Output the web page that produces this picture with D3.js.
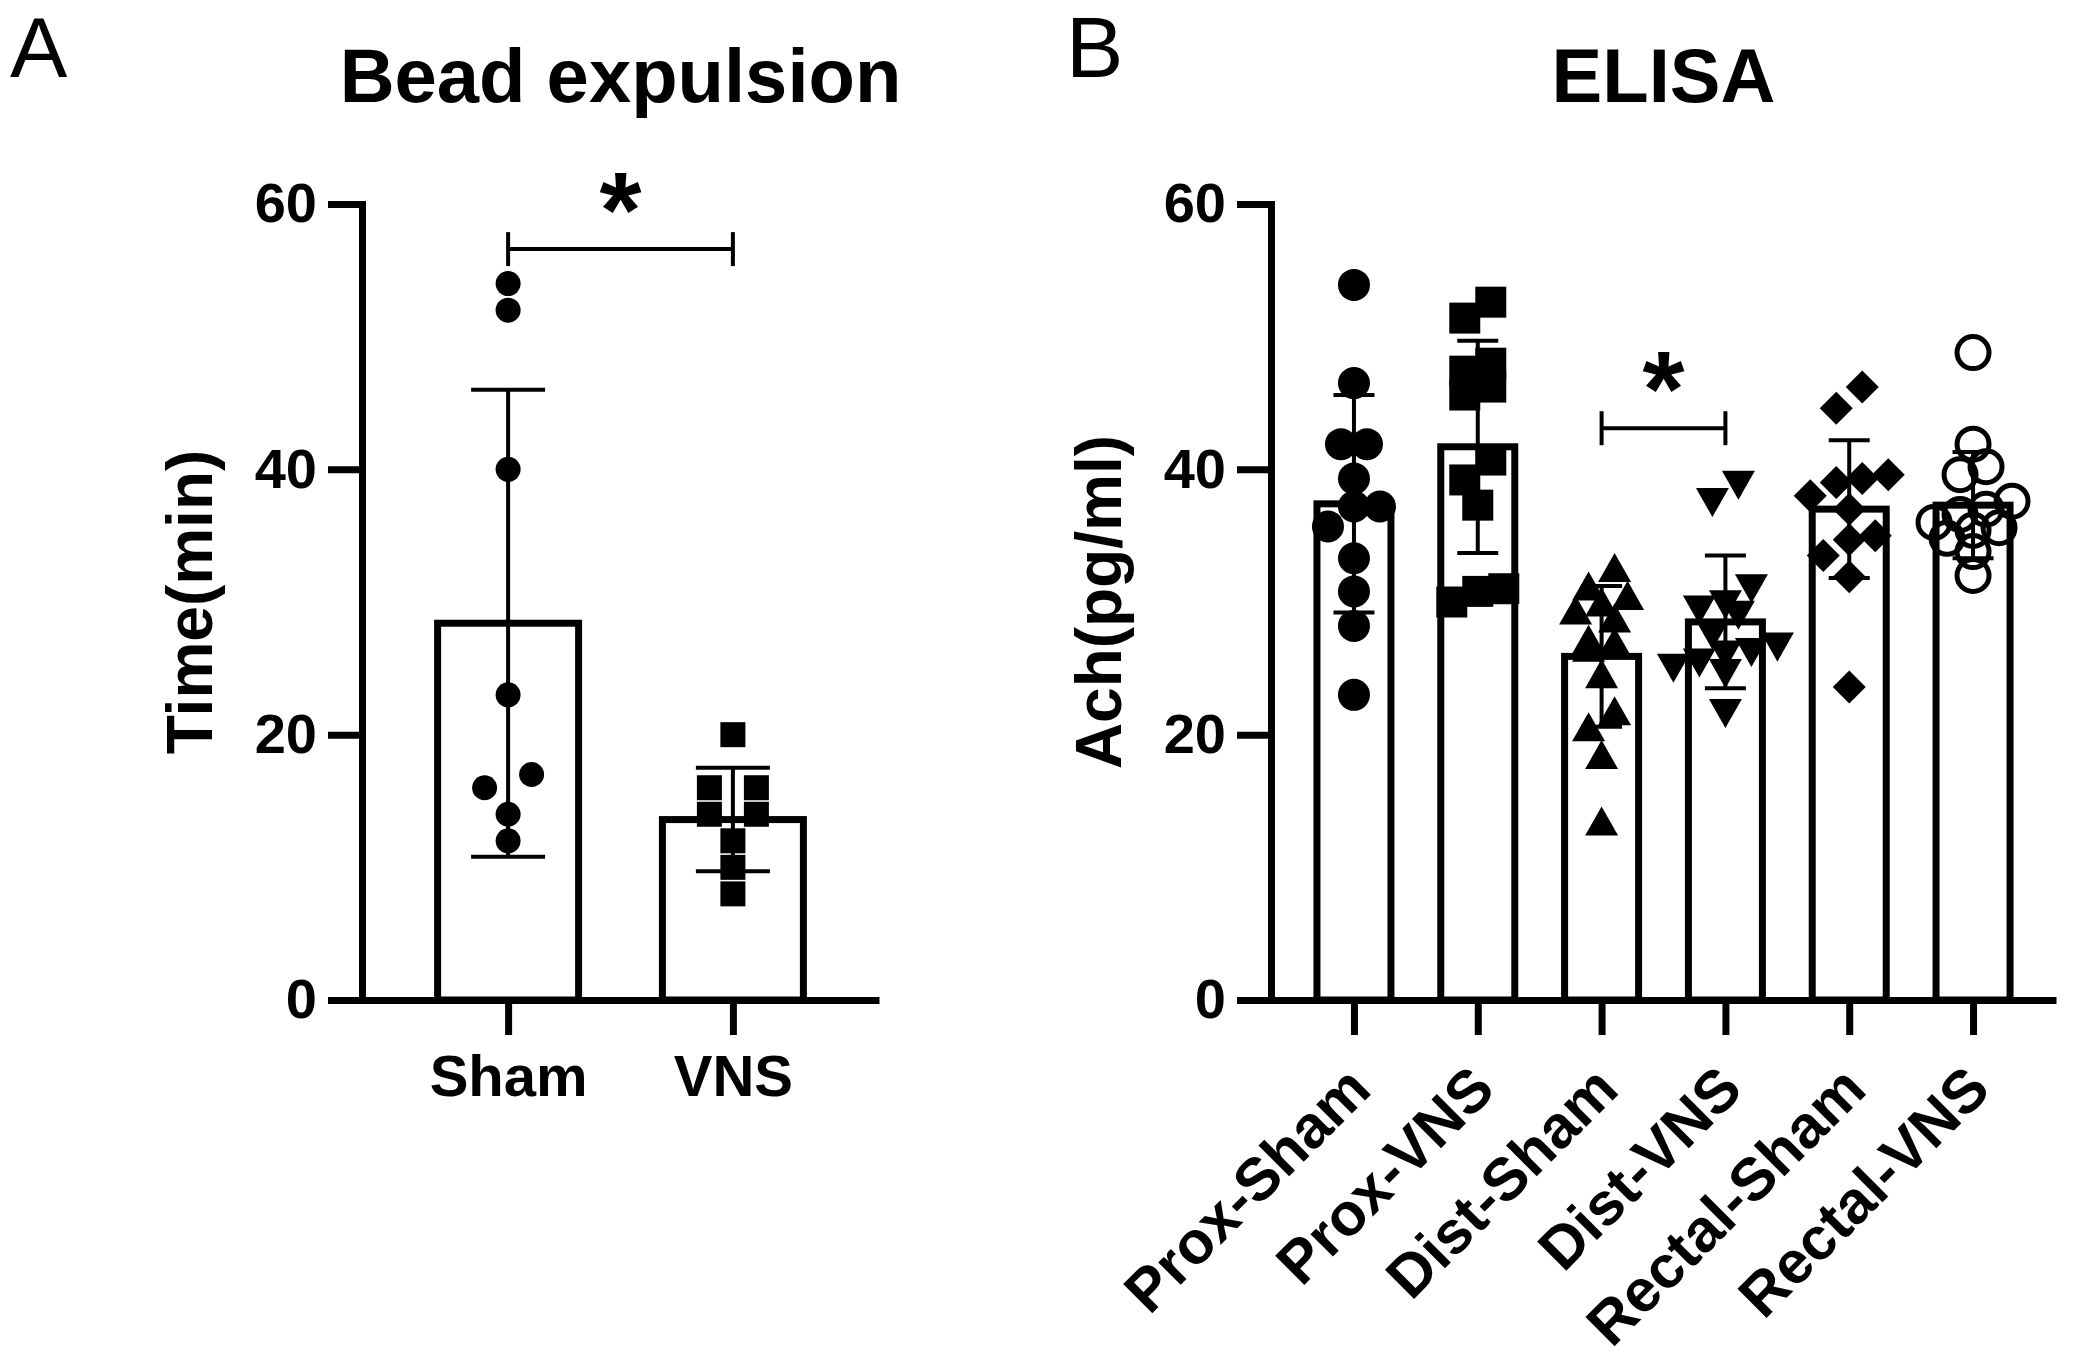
<!DOCTYPE html>
<html>
<head>
<meta charset="utf-8">
<script src="https://cdn.jsdelivr.net/npm/d3@7"></script>
<style>
  html, body { margin: 0; padding: 0; background: #fff; }
  svg { display: block; }
  text { font-family: "Liberation Sans", Arial, sans-serif; font-weight: bold; fill: #000; }
</style>
</head>
<body>
<div class="containers"></div>
<script>
// ---- data ----
const yTicks = [0, 20, 40, 60]

// A: bead expulsion time (min)
const beadGroups = ['Sham', 'VNS']
const beadSham = [54, 52, 40, 23, 17, 16, 14, 12]
const beadVns = [20, 16, 16, 14, 14, 12, 10, 8]
const beadMean = [28.4, 13.6]
const beadSd = [17.6, 3.9]
const beadSig = [{ a: 'Sham', b: 'VNS', v: 56.6, label: '*' }]

// B: ELISA Ach (pg/ml)
const elisaGroups = ['Prox-Sham', 'Prox-VNS', 'Dist-Sham', 'Dist-VNS', 'Rectal-Sham', 'Rectal-VNS']
const proxSham = [53.9, 46.5, 41.9, 41.9, 39.3, 37.2, 37.2, 35.7, 33.3, 30.8, 28.2, 23.0]
const proxVns = [52.6, 51.4, 48.0, 47.4, 46.2, 45.6, 40.7, 39.2, 37.3, 31.0, 30.8, 30.0]
const distSham = [32.6, 31.2, 30.5, 30.0, 29.4, 28.8, 27.2, 27.0, 26.6, 24.6, 21.8, 20.6, 18.5, 13.5]
const distVns = [38.8, 37.5, 31.0, 29.8, 29.4, 29.0, 27.5, 26.6, 26.2, 26.0, 25.4, 25.0, 24.6, 21.6]
const rectalSham = [46.2, 44.6, 39.6, 39.3, 39.0, 38.0, 37.0, 35.0, 34.7, 33.5, 31.9, 23.6]
const rectalVns = [48.8, 41.9, 40.2, 39.6, 37.6, 37.0, 36.6, 36.0, 35.6, 35.4, 34.8, 33.8, 32.0]
const elisaMean = [37.4, 41.7, 25.9, 28.5, 37.0, 37.3]
const elisaSd = [8.2, 8.0, 5.3, 5.0, 5.2, 4.0]
const elisaSig = [{ a: 'Dist-Sham', b: 'Dist-VNS', v: 43.1, label: '*' }]

// ---- drawing ----
const width = 2077
const height = 1358
const FONT = '"Liberation Sans", Arial, sans-serif'

const svg = d3.select('.containers')
  .append('svg')
  .attr('width', width)
  .attr('height', height)
  .attr('viewBox', [0, 0, width, height])

const y = d3.scaleLinear().domain([0, 60]).range([1000, 204])
const pxPerUnit = (y(0) - y(60)) / 60

// marker outlines, centred on 0,0, s = overall size
const markerPath = {
  circle: s => d3.symbol(d3.symbolCircle, Math.PI * s * s / 4)(),
  square: s => d3.symbol(d3.symbolSquare, s * s)(),
  triUp: s => `M0,${-0.44 * s}L${s / 2},${0.44 * s}L${-s / 2},${0.44 * s}Z`,
  triDown: s => `M0,${0.44 * s}L${s / 2},${-0.44 * s}L${-s / 2},${-0.44 * s}Z`,
  diamond: s => `M0,${-s / 2}L${s / 2},0L0,${s / 2}L${-s / 2},0Z`,
  ring: s => d3.symbol(d3.symbolCircle, Math.PI * s * s / 4)()
}

// group close values into rows and spread each row sideways
const scatterRows = (vals, cx, thr, gap) => {
  const sorted = vals.slice().sort((a, b) => b - a)
  const rows = []
  sorted.forEach(v => {
    const r = rows[rows.length - 1]
    if (r && (r[0] - v) * pxPerUnit < thr) r.push(v)
    else rows.push([v])
  })
  const out = []
  rows.forEach(r => {
    r.slice().reverse().forEach((v, i) => out.push({ v, x: cx + (i - (r.length - 1) / 2) * gap }))
  })
  return out
}

function drawPanel(cfg) {
  const g = svg.append('g')
  const x = d3.scalePoint()
    .domain(cfg.groups)
    .range([cfg.left, cfg.right])
    .padding(cfg.pad)

  // bars
  g.append('g')
    .selectAll('rect')
    .data(cfg.groups)
    .join('rect')
    .attr('x', d => x(d) - cfg.barW / 2)
    .attr('width', cfg.barW)
    .attr('y', (d, i) => y(cfg.means[i]))
    .attr('height', (d, i) => y(0) - y(cfg.means[i]))
    .attr('fill', '#fff')
    .attr('stroke', '#000')
    .attr('stroke-width', 7)

  // y axis
  const ya = g.append('g')
    .attr('transform', `translate(${cfg.left},0)`)
    .call(d3.axisLeft(y).tickValues(yTicks).tickSize(34).tickSizeOuter(0).tickPadding(11))
  ya.select('.domain').attr('stroke-width', 7).attr('stroke-linecap', 'square')
  ya.selectAll('.tick line').attr('stroke-width', 7)
  ya.selectAll('.tick text')
    .attr('font-family', FONT)
    .attr('font-weight', 'bold')
    .attr('font-size', 56)

  // x axis
  const xa = g.append('g')
    .attr('transform', `translate(0,${y(0)})`)
    .call(d3.axisBottom(x).tickSize(35).tickSizeOuter(0).tickPadding(20))
  xa.select('.domain').attr('stroke-width', 7)
  xa.selectAll('.tick line').attr('stroke-width', 7)
  const xt = xa.selectAll('.tick text')
    .attr('font-family', FONT)
    .attr('font-weight', 'bold')
    .attr('font-size', cfg.xFont)
  if (cfg.rotate) {
    xt.attr('x', null).attr('y', null).attr('dy', null)
      .attr('text-anchor', 'end')
      .attr('transform', 'translate(19,92) rotate(-45)')
  }

  // error bars (mean +/- SD)
  const eb = g.append('g').attr('stroke', '#000').attr('stroke-width', 4)
  cfg.groups.forEach((grp, i) => {
    const cx = x(grp)
    const lo = y(cfg.means[i] - cfg.sds[i])
    const hi = y(cfg.means[i] + cfg.sds[i])
    eb.append('line').attr('x1', cx).attr('x2', cx).attr('y1', lo).attr('y2', hi)
    eb.append('line').attr('x1', cx - cfg.capW / 2).attr('x2', cx + cfg.capW / 2).attr('y1', hi).attr('y2', hi)
    eb.append('line').attr('x1', cx - cfg.capW / 2).attr('x2', cx + cfg.capW / 2).attr('y1', lo).attr('y2', lo)
  })

  // individual points
  cfg.groups.forEach((grp, i) => {
    const kind = cfg.shapes[i]
    const pts = scatterRows(cfg.values[i], x(grp), cfg.rowThr, cfg.rowGap)
    const size = cfg.sizes[i]
    g.append('g')
      .selectAll('path')
      .data(pts)
      .join('path')
      .attr('d', markerPath[kind](size))
      .attr('transform', d => `translate(${d.x},${y(d.v)})`)
      .attr('fill', kind === 'ring' ? 'none' : '#000')
      .attr('stroke', kind === 'ring' ? '#000' : 'none')
      .attr('stroke-width', kind === 'ring' ? 5 : 0)
  })

  // significance bracket
  cfg.sig.forEach(s => {
    const yy = y(s.v)
    const b = g.append('g').attr('stroke', '#000').attr('stroke-width', 4)
    b.append('line').attr('x1', x(s.a)).attr('x2', x(s.b)).attr('y1', yy).attr('y2', yy)
    b.append('line').attr('x1', x(s.a)).attr('x2', x(s.a)).attr('y1', yy - 17).attr('y2', yy + 17)
    b.append('line').attr('x1', x(s.b)).attr('x2', x(s.b)).attr('y1', yy - 17).attr('y2', yy + 17)
    g.append('text')
      .attr('x', (x(s.a) + x(s.b)) / 2)
      .attr('y', yy - 2)
      .attr('text-anchor', 'middle')
      .attr('font-size', 108)
      .text(s.label)
  })

  // title, panel letter, y-axis title
  g.append('text')
    .attr('x', (cfg.left + cfg.right) / 2)
    .attr('y', 102)
    .attr('text-anchor', 'middle')
    .attr('font-size', 76)
    .text(cfg.title)

  g.append('text')
    .attr('x', cfg.letterX)
    .attr('y', 77)
    .attr('font-size', 86)
    .style('font-weight', 'normal')
    .text(cfg.letter)

  g.append('text')
    .attr('transform', `translate(${cfg.left - 150},${(y(0) + y(60)) / 2}) rotate(-90)`)
    .attr('text-anchor', 'middle')
    .attr('font-size', 64)
    .text(cfg.yTitle)
}

drawPanel({
  groups: beadGroups,
  values: [beadSham, beadVns],
  means: beadMean,
  sds: beadSd,
  sig: beadSig,
  shapes: ['circle', 'square'],
  sizes: [25, 25],
  left: 362, right: 879, pad: 0.65,
  barW: 141, capW: 74,
  rowThr: 20, rowGap: 47,
  xFont: 58, rotate: false,
  title: 'Bead expulsion', letter: 'A', letterX: 10,
  yTitle: 'Time(min)'
})

drawPanel({
  groups: elisaGroups,
  values: [proxSham, proxVns, distSham, distVns, rectalSham, rectalVns],
  means: elisaMean,
  sds: elisaSd,
  sig: elisaSig,
  shapes: ['circle', 'square', 'triUp', 'triDown', 'diamond', 'ring'],
  sizes: [32, 31, 33, 33, 33, 32],
  left: 1271, right: 2056, pad: 0.67,
  barW: 74, capW: 41,
  rowThr: 22, rowGap: 26,
  xFont: 60, rotate: true,
  title: 'ELISA', letter: 'B', letterX: 1066,
  yTitle: 'Ach(pg/ml)'
})
</script>
</body>
</html>
